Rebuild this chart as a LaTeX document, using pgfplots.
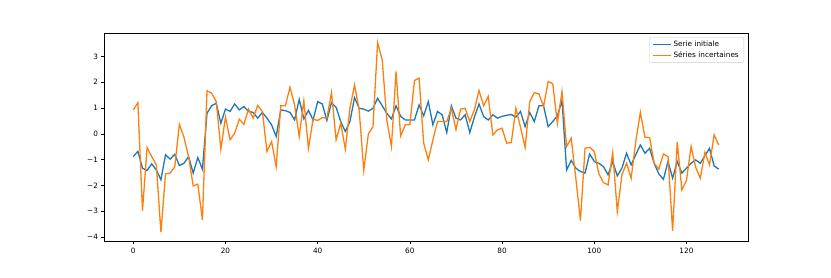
\documentclass[border=0pt]{standalone}
\usepackage{fontspec}
\setmainfont{DejaVu Sans}
\usepackage{pgfplots}
\usepackage{pgfplotstable}
\pgfplotsset{compat=1.18}
\definecolor{tabblue}{HTML}{1F77B4}
\definecolor{taborange}{HTML}{FF7F0E}

% i  initiale  incertaine
\pgfplotstableread{
i b o
0 -0.88 0.93
1 -0.68 1.21
2 -1.33 -2.98
3 -1.42 -0.53
4 -1.16 -0.88
5 -1.40 -1.20
6 -1.78 -3.81
7 -0.81 -1.55
8 -0.98 -1.52
9 -0.79 -1.27
10 -1.23 0.37
11 -1.14 -0.13
12 -0.88 -0.88
13 -1.52 -2.02
14 -0.92 -1.95
15 -1.37 -3.33
16 0.80 1.67
17 1.09 1.58
18 1.19 1.25
19 0.41 -0.59
20 0.96 0.65
21 0.87 -0.23
22 1.16 0.03
23 0.93 0.57
24 1.06 0.37
25 0.87 0.96
26 0.83 0.61
27 0.61 1.10
28 0.83 0.87
29 0.61 -0.68
30 0.35 -0.30
31 -0.10 -1.27
32 0.93 1.09
33 0.90 1.09
34 0.83 1.81
35 0.54 1.12
36 1.34 -0.10
37 0.58 1.29
38 0.91 -0.56
39 0.54 0.57
40 1.25 0.52
41 1.16 0.63
42 0.52 0.61
43 1.21 1.60
44 1.03 -0.23
45 0.48 0.41
46 0.09 -0.59
47 0.48 0.99
48 1.41 1.90
49 0.99 0.93
50 0.96 -1.42
51 0.88 0.00
52 0.99 0.28
53 1.38 3.54
54 1.09 2.87
55 0.80 0.54
56 0.58 -0.49
57 1.09 2.42
58 0.68 -0.08
59 0.54 0.35
60 0.54 0.36
61 0.54 2.07
62 1.12 2.16
63 0.70 -0.36
64 1.25 -1.01
65 0.35 -0.23
66 0.87 0.48
67 0.74 0.48
68 0.05 0.48
69 1.09 0.99
70 0.61 0.16
71 0.54 0.96
72 0.74 0.99
73 0.05 0.48
74 0.65 0.93
75 1.16 1.68
76 0.67 1.09
77 0.54 1.45
78 0.74 -0.04
79 0.61 0.16
80 0.68 0.22
81 0.72 -0.36
82 0.75 -0.34
83 0.65 0.99
84 0.87 0.26
85 0.28 -0.52
86 0.83 1.25
87 0.48 1.60
88 1.09 1.55
89 1.09 1.06
90 0.28 2.03
91 0.48 1.94
92 0.70 0.41
93 1.29 1.64
94 -1.40 -0.49
95 -1.03 -0.17
96 -1.33 -1.72
97 -1.46 -3.36
98 -1.52 -0.56
99 -0.78 -0.52
100 -1.07 -0.68
101 -1.14 -1.55
102 -1.27 -1.89
103 -1.59 -1.98
104 -1.07 -0.72
105 -1.63 -3.01
106 -1.33 -1.59
107 -0.75 -1.14
108 -1.20 -1.72
109 -0.81 -0.30
110 -0.43 0.83
111 -0.75 -0.13
112 -0.56 -0.14
113 -1.14 -1.14
114 -1.55 -1.37
115 -1.76 -0.78
116 -1.07 -0.88
117 -1.72 -3.76
118 -1.07 -0.30
119 -1.52 -2.17
120 -1.33 -1.81
121 -1.14 -0.49
122 -1.01 -1.29
123 -1.14 -1.72
124 -0.85 -0.72
125 -0.56 -1.20
126 -1.24 -0.04
127 -1.37 -0.43
}\series

\begin{document}
\begin{tikzpicture}
\path[use as bounding box] (0pt,0pt) rectangle (831pt,277pt);
\begin{axis}[
    at={(104pt,35.3pt)}, anchor=south west,
    scale only axis, width=644pt, height=208.7pt,
    xmin=-6.35, xmax=133.35, ymin=-4.18, ymax=3.91,
    xtick={0,20,...,120}, ytick={-4,...,3},
    yticklabels={−4,−3,−2,−1,0,1,2,3},
    tick align=outside, tick pos=left,
    major tick length=2.5pt,
    tick style={black, line width=0.6pt},
    axis line style={line width=0.6pt},
    ticklabel style={font=\fontsize{7.3}{8}\selectfont},
    /pgf/number format/assume math mode=true,
    legend cell align=left,
    legend style={at={(1,1)}, anchor=north east, xshift=-4pt, yshift=-4pt,
        draw=black!20, rounded corners=2pt, fill=white,
        font=\fontsize{7.3}{8.5}\selectfont, inner xsep=3pt, inner ysep=1.5pt},
    legend image code/.code={\draw[#1] (0pt,0pt) -- (18pt,0pt);},
]
\addplot[tabblue, line width=1.3pt] table[x=i, y=b] {\series};
\addplot[taborange, line width=1.3pt] table[x=i, y=o] {\series};
\legend{Serie initiale, Séries incertaines}
\end{axis}
\end{tikzpicture}
\end{document}
